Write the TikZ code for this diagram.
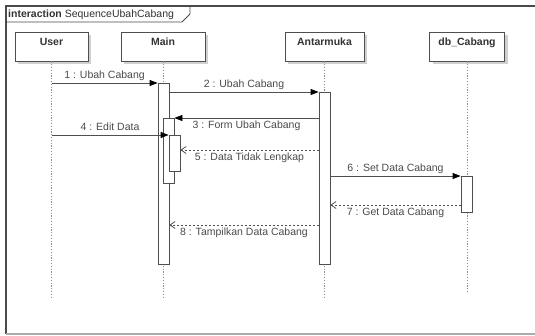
\documentclass[tikz,border=0pt]{standalone}
\usepackage{fontspec}
\setmainfont{Liberation Sans}
\usetikzlibrary{arrows.meta,shadows}
\definecolor{framegray}{HTML}{4A4A4A}
\definecolor{linegray}{HTML}{4F4F4F}
\definecolor{dotgray}{HTML}{8A8A8A}
\definecolor{textgray}{HTML}{4A4A4A}
\definecolor{namegray}{HTML}{333333}
\definecolor{shadowgray}{HTML}{D0D0D0}
\definecolor{basegray}{HTML}{ABABAB}
\begin{document}
\begin{tikzpicture}[x=1pt,y=-1pt,
  lifehead/.style={draw=linegray, fill=white, line width=0.8pt, minimum height=29pt,
    inner sep=0pt, text height=7.5pt, text depth=9pt, text=namegray,
    font=\fontsize{10.5}{12}\selectfont\bfseries,
    drop shadow={shadow xshift=3pt, shadow yshift=-3pt, fill=shadowgray, opacity=1}},
  lifeline/.style={draw=dotgray, line width=0.9pt, dash pattern=on 1.2pt off 1.6pt},
  actbar/.style={draw=linegray, fill=white, line width=0.8pt, minimum width=11pt,
    inner sep=0pt, anchor=north},
  call/.style={draw=linegray, line width=0.8pt,
    -{Triangle[length=8pt,width=6pt,color=black]}},
  reply/.style={draw=linegray, line width=0.8pt, dash pattern=on 2pt off 2pt,
    -{Straight Barb[length=5pt,width=7pt]}},
  msgabove/.style={midway, anchor=base, yshift=4pt, inner sep=0pt, text=textgray,
    font=\fontsize{10.5}{12}\selectfont},
  msgbelow/.style={midway, anchor=base, yshift=-10.5pt, inner sep=0pt, text=textgray,
    font=\fontsize{10.5}{12}\selectfont}
]
\useasboundingbox (0,0) rectangle (535,336);

% interaction frame and its name tab
\draw[framegray, line width=1.1pt] (540,6) -- (6,6) -- (6,334);
\draw[basegray, line width=2pt] (6,334) -- (540,334);
\draw[framegray, line width=0.9pt] (6,22) -- (182,22) -- (190,14) -- (190,6);
\node[anchor=base west, inner sep=0pt, text=namegray, font=\fontsize{10.5}{12}\selectfont]
  (title) at (8,18) {\textbf{interaction} SequenceUbahCabang};

% lifeline heads
\node[lifehead, minimum width=73pt] (user) at (51.5,46.5) {User};
\node[lifehead, minimum width=84pt] (main) at (163,46.5) {Main};
\node[lifehead, minimum width=79pt] (ui) at (324.5,46.5) {Antarmuka};
\node[lifehead, minimum width=75pt] (db) at (467,46.5) {db\_Cabang};

% lifelines
\coordinate (userend) at (51.5,298);
\coordinate (mainend) at (163,298);
\coordinate (uiend) at (324.5,298);
\coordinate (dbend) at (467,293);
\draw[lifeline] (user.south) -- (userend);
\draw[lifeline] (main.south) -- (mainend);
\draw[lifeline] (ui.south) -- (uiend);
\draw[lifeline] (db.south) -- (dbend);

% activations
\node[actbar, minimum height=181pt] (mainbar) at (163.5,83) {};
\node[actbar, minimum height=172pt] (uibar) at (324.5,92) {};
\node[actbar, minimum height=65pt] (nestA) at (168.5,118) {};
\node[actbar, minimum height=36pt] (nestB) at (174.5,135) {};
\node[actbar, minimum height=36pt] (dbbar) at (466.5,176) {};

% messages
\draw[call] (user.south |- mainbar.north) -- (mainbar.north west)
  node[msgabove] {1 : Ubah Cabang};
\draw[call] (mainbar.east |- uibar.north) -- (uibar.north west)
  node[msgabove] {2 : Ubah Cabang};
\draw[call] (uibar.west |- nestA.north) -- (nestA.north east)
  node[msgbelow] {3 : Form Ubah Cabang};
\draw[call] (user.south |- nestB.north) -- (nestB.north west)
  node[msgabove] {4 : Edit Data};
\draw[reply] (uibar.west |- 0,150) -- (nestB.east |- 0,150)
  node[msgbelow] {5 : Data Tidak Lengkap};
\draw[call] (uibar.east |- dbbar.north) -- (dbbar.north west)
  node[msgabove] {6 : Set Data Cabang};
\draw[reply] (dbbar.west |- 0,205) -- (uibar.east |- 0,205)
  node[msgbelow] {7 : Get Data Cabang};
\draw[reply] (uibar.west |- 0,225) -- (mainbar.east |- 0,225)
  node[msgbelow] {8 : Tampilkan Data Cabang};
\end{tikzpicture}
\end{document}
